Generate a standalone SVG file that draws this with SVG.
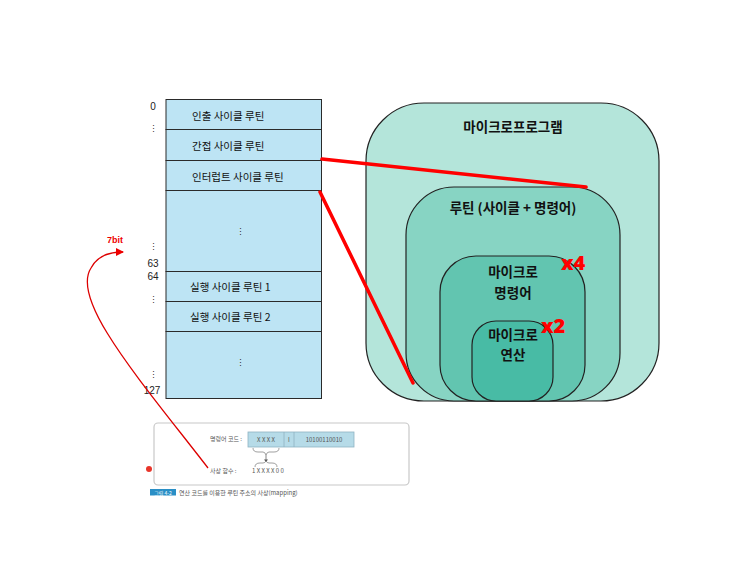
<svg xmlns="http://www.w3.org/2000/svg" width="750" height="562" viewBox="0 0 750 562">
<style>
.row{fill:#bde4f4;stroke:#2a2a2a;stroke-width:1}
.rt{font-family:"Noto Sans CJK KR","Noto Sans",sans-serif;font-size:10.5px;fill:#111}
.num{font-family:"Liberation Sans",sans-serif;font-size:10px;fill:#222}
.dot{font-family:"Liberation Sans",sans-serif;font-size:9px;fill:#333}
.nest{stroke:#222;stroke-width:1.2}
.nt{font-family:"Noto Sans CJK KR","Noto Sans",sans-serif;font-size:13.5px;font-weight:bold;fill:#111;text-anchor:middle}
.mul{font-family:"Noto Sans","Liberation Sans",sans-serif;font-size:20px;font-weight:900;fill:#f00}
.red{stroke:#f00;stroke-width:3.5;fill:none;stroke-linecap:round}
.sm{font-family:"Noto Sans CJK KR","Noto Sans",sans-serif;font-size:6px;fill:#555}
</style>
<defs>
<marker id="ah" markerWidth="8" markerHeight="8" refX="7" refY="4" orient="auto" markerUnits="userSpaceOnUse">
<path d="M0,0 L8,4 L0,8 Z" fill="#e00"/>
</marker>
</defs>
<rect width="750" height="562" fill="#fff"/>

<g id="memory">
<rect class="row" x="166" y="99.5" width="155.5" height="30"/>
<rect class="row" x="166" y="129.5" width="155.5" height="31"/>
<rect class="row" x="166" y="160.5" width="155.5" height="30"/>
<rect class="row" x="166" y="190.5" width="155.5" height="81"/>
<rect class="row" x="166" y="271.5" width="155.5" height="30"/>
<rect class="row" x="166" y="301.5" width="155.5" height="30"/>
<rect class="row" x="166" y="331.5" width="155.5" height="67"/>
<text class="rt" x="192" y="120">인출 사이클 루틴</text>
<text class="rt" x="192" y="150">간접 사이클 루틴</text>
<text class="rt" x="192" y="181">인터럽트 사이클 루틴</text>
<text class="rt" x="190" y="291">실행 사이클 루틴 1</text>
<text class="rt" x="190" y="321">실행 사이클 루틴 2</text>
<text class="dot" x="240" y="235" text-anchor="middle">⋮</text>
<text class="dot" x="240" y="366" text-anchor="middle">⋮</text>
<text class="num" x="153" y="110" text-anchor="middle">0</text>
<text class="dot" x="153" y="132" text-anchor="middle">⋮</text>
<text class="dot" x="153" y="250" text-anchor="middle">⋮</text>
<text class="num" x="153" y="267" text-anchor="middle">63</text>
<text class="num" x="153" y="280" text-anchor="middle">64</text>
<text class="dot" x="153" y="303" text-anchor="middle">⋮</text>
<text class="dot" x="153" y="378" text-anchor="middle">⋮</text>
<text class="num" x="152" y="394" text-anchor="middle">127</text>
</g>

<g id="mapping-figure">
<rect x="154" y="423" width="255" height="62" rx="4" fill="#fff" stroke="#c8c8c8" stroke-width="1.2"/>
<text class="sm" x="210" y="441">명령어 코드 :</text>
<rect x="248" y="432" width="106" height="15" fill="#b6dbe8" stroke="#8fb3c2" stroke-width="0.8"/>
<line x1="284" y1="432" x2="284" y2="447" stroke="#8fb3c2" stroke-width="0.8"/>
<line x1="294" y1="432" x2="294" y2="447" stroke="#8fb3c2" stroke-width="0.8"/>
<text class="sm" x="266" y="442" text-anchor="middle">X X X X</text>
<text class="sm" x="289" y="442" text-anchor="middle">I</text>
<text class="sm" x="324" y="442" text-anchor="middle">10100110010</text>
<path d="M253,448 Q253,452 258,452 L263,452 Q265,452 266,455 Q267,452 269,452 L274,452 Q279,452 279,448" fill="none" stroke="#777" stroke-width="0.7"/>
<line x1="266" y1="455" x2="266" y2="461" stroke="#555" stroke-width="0.7"/>
<path d="M264,459.5 L266,462 L268,459.5 Z" fill="#555"/>
<path d="M255,467 Q255,463 260,463 L263,463 Q265,463 266,461 Q267,463 269,463 L272,463 Q277,463 277,467" fill="none" stroke="#777" stroke-width="0.7"/>
<text class="sm" x="210" y="473">사상 함수 :</text>
<text class="sm" x="252" y="473">1 X X X X 0 0</text>
<rect x="150" y="489" width="26" height="6.5" fill="#2a8fc6"/>
<text x="163" y="494.5" font-family="Noto Sans CJK KR,sans-serif" font-size="5px" fill="#fff" text-anchor="middle">그림 4-2</text>
<text class="sm" x="179" y="495" font-size="5.5px">연산 코드를 이용한 루틴 주소의 사상(mapping)</text>
</g>

<g id="microprogram">
<rect class="nest" x="366" y="103" width="293" height="298" rx="58" fill="#b4e5da"/>
<text class="nt" x="513" y="132">마이크로프로그램</text>
</g>
<g id="routine">
<rect class="nest" x="406" y="187" width="214" height="214" rx="48" fill="#87d4c3"/>
<text class="nt" x="513" y="213">루틴 (사이클 + 명령어)</text>
</g>
<g id="micro-instruction">
<rect class="nest" x="440" y="256" width="145" height="145" rx="36" fill="#62c5b0"/>
<text class="nt" x="513" y="277">마이크로</text>
<text class="nt" x="513" y="298">명령어</text>
</g>
<g id="micro-operation">
<rect class="nest" x="472" y="321" width="81" height="80" rx="24" fill="#48bba5"/>
<text class="nt" x="513" y="340">마이크로</text>
<text class="nt" x="513" y="360">연산</text>
</g>
<text class="mul" x="561" y="270">x4</text>
<text class="mul" x="541" y="333">x2</text>

<g id="connectors">
<line class="red" x1="322" y1="159" x2="586" y2="187"/>
<line class="red" x1="320" y1="192" x2="413" y2="383"/>
<path d="M208,468 C140,380 70,300 91,268 C97,256 108,252 123,252" fill="none" stroke="#d00" stroke-width="1.3" marker-end="url(#ah)"/>
<circle cx="149" cy="469" r="3" fill="#e8352a"/>
<text x="115" y="243" font-family="Liberation Sans,sans-serif" font-size="9px" font-weight="bold" fill="#e00" text-anchor="middle">7bit</text>
</g>
</svg>
